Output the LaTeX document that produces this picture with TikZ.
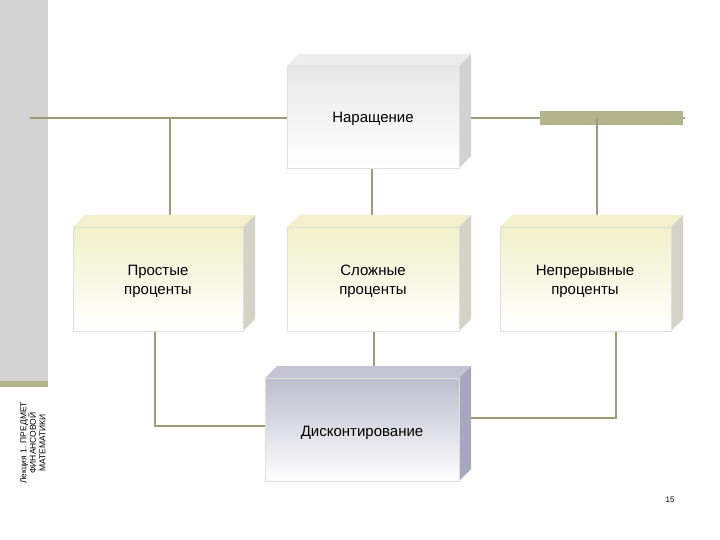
\documentclass[tikz,border=0pt]{standalone}
\usepackage{fontspec}
\setmainfont{Liberation Sans}
\definecolor{ln}{HTML}{9C9C78}
\definecolor{bar}{HTML}{B4B48C}
\colorlet{gtop}{gray!15}\colorlet{gside}{gray!35}\colorlet{gfront}{gray!18}
\colorlet{ytop}{yellow!20!olive!15!white}\colorlet{yside}{yellow!20!olive!15!gray!40}\colorlet{yfront}{yellow!25!olive!15!white}
\colorlet{btop}{blue!15!gray!40}\colorlet{bside}{blue!15!gray!60}\colorlet{bfront}{blue!15!gray!45}
\begin{document}
\begin{tikzpicture}[x=1pt,y=-1pt,
  conn/.style={draw=ln,line width=1.5pt},
  lbl/.style={font=\fontsize{15}{19}\selectfont,align=center}]
\useasboundingbox (0,0) rectangle (720,540);
\fill[gray!35] (0,0) rectangle (48,381);
\fill[bar] (0,381) rectangle (48,387);
\node[rotate=90,font=\fontsize{8.5}{9.5}\selectfont,align=center] (side) at (33,443) {Лекция 1. ПРЕДМЕТ\\ФИНАНСОВОЙ\\МАТЕМАТИКИ};
\tikzset{pics/bx/.style args={#1/#2/#3/#4/#5}{code={
  \fill[#5top] (#1,#2) -- (#1+12,#2-12) -- (#3+12,#2-12) -- (#3,#2) -- cycle;
  \fill[#5side] (#3,#2) -- (#3+12,#2-12) -- (#3+12,#4-12) -- (#3,#4) -- cycle;
  \shade[top color=#5front,bottom color=white,draw=gray!25] (#1,#2) rectangle (#3,#4);
}}}
\coordinate (hl) at (30,118); \coordinate (hr) at (685,118);
\draw[conn] (hl) -- (hr);
\fill[bar] (540,111) rectangle (683,125);
\coordinate (a1) at (170,118); \coordinate (a3) at (597,118);
\draw[conn] (a1) -- (170,216);
\draw[conn] (a3) -- (597,216);
\draw[conn] (372,168) -- (372,227);
\draw[conn] (155,331) |- (265,426);
\draw[conn] (374,331) -- (374,367);
\draw[conn] (616,331) |- (471,418);
\pic {bx=287/66/459/168/g};
\pic {bx=73/227/243/331/y};
\pic {bx=287/227/459/331/y};
\pic {bx=500/227/671/331/y};
\pic {bx=265/378/459/481/b};
\node[lbl] (n0) at (373,119) {Наращение};
\node[lbl] (n1) at (158,281) {Простые\\проценты};
\node[lbl] (n2) at (373,281) {Сложные\\проценты};
\node[lbl] (n4) at (362,433) {Дисконтирование};
\node[lbl] (n3) at (585,281) {Непрерывные\\проценты};
\node[font=\fontsize{8}{9}\selectfont] (pg) at (670,500) {15};
\end{tikzpicture}
\end{document}
